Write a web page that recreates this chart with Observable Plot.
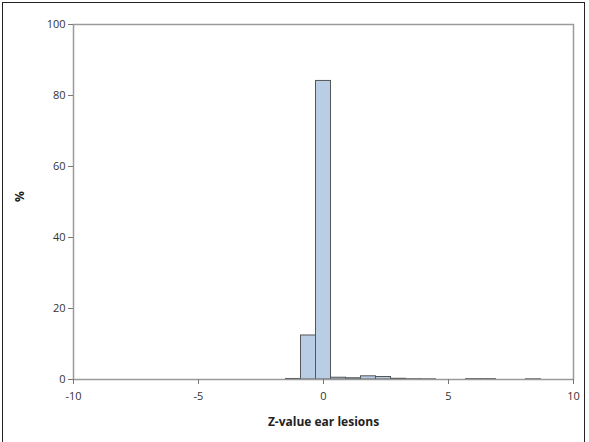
<!DOCTYPE html>
<html>
<head>
<meta charset="utf-8">
<script src="https://cdn.jsdelivr.net/npm/d3@7"></script>
<script src="https://cdn.jsdelivr.net/npm/@observablehq/plot@0.6"></script>
<style>
  html, body { margin: 0; padding: 0; background: #fff; }
  #wrap { position: relative; width: 589px; height: 442px; }
  #border { position: absolute; left: 2px; top: 2px; width: 583px; height: 442px; border: 1px solid #222; box-sizing: border-box; pointer-events: none; }
  svg { position: absolute; left: 0; top: 0; }
</style>
</head>
<body>
<div id="wrap"><div id="border"></div></div>
<script>
// Histogram bins (lower edge, upper edge) and percentage of observations
const binLo = [-1.5, -0.9, -0.3, 0.3, 0.9, 1.5, 2.1, 2.7, 3.3, 3.9, 5.7, 6.3, 8.1];
const binHi = [-0.9, -0.3, 0.3, 0.9, 1.5, 2.1, 2.7, 3.3, 3.9, 4.5, 6.3, 6.9, 8.7];
const pct   = [0.15, 12.4, 84.1, 0.5, 0.35, 0.9, 0.7, 0.2, 0.08, 0.06, 0.1, 0.1, 0.06];
const xTicks = [-10, -5, 0, 5, 10];
const yTicks = [0, 20, 40, 60, 80, 100];

const data = binLo.map((lo, i) => ({lo, hi: binHi[i], pct: pct[i]}));

const chart = Plot.plot({
  width: 589,
  height: 442,
  marginLeft: 73,
  marginRight: 16,
  marginTop: 24,
  marginBottom: 63,
  style: {fontFamily: "'Open Sans', 'Noto Sans', sans-serif", fontSize: "11px", color: "#333", background: "transparent"},
  x: {domain: [-10, 10], ticks: xTicks, tickSize: 5, label: null},
  y: {domain: [0, 100], ticks: yTicks, tickSize: 5, label: null},
  marks: [
    Plot.rectY(data, {x1: "lo", x2: "hi", y: "pct", fill: "#b9cde5", stroke: "#555", strokeWidth: 1, insetLeft: 0, insetRight: 0}),
    Plot.frame({stroke: "#9a9a9a", strokeWidth: 1.5}),
    Plot.axisX({ticks: xTicks, tickSize: 5, tickPadding: 8, tickFormat: d => String(d), stroke: "#777", fill: "#333", label: null}),
    Plot.axisY({ticks: yTicks, tickSize: 5, tickPadding: 3, tickFormat: d => String(d), stroke: "#777", fill: "#333", label: null}),
    Plot.text(["Z-value ear lesions"], {frameAnchor: "bottom", dy: 46, fontWeight: "bold", fontSize: 12, fill: "#222"}),
    Plot.text(["%"], {frameAnchor: "left", dx: -53, rotate: -90, fontWeight: "bold", fontSize: 12, fill: "#222"})
  ]
});
document.getElementById("wrap").appendChild(chart);
</script>
</body>
</html>
